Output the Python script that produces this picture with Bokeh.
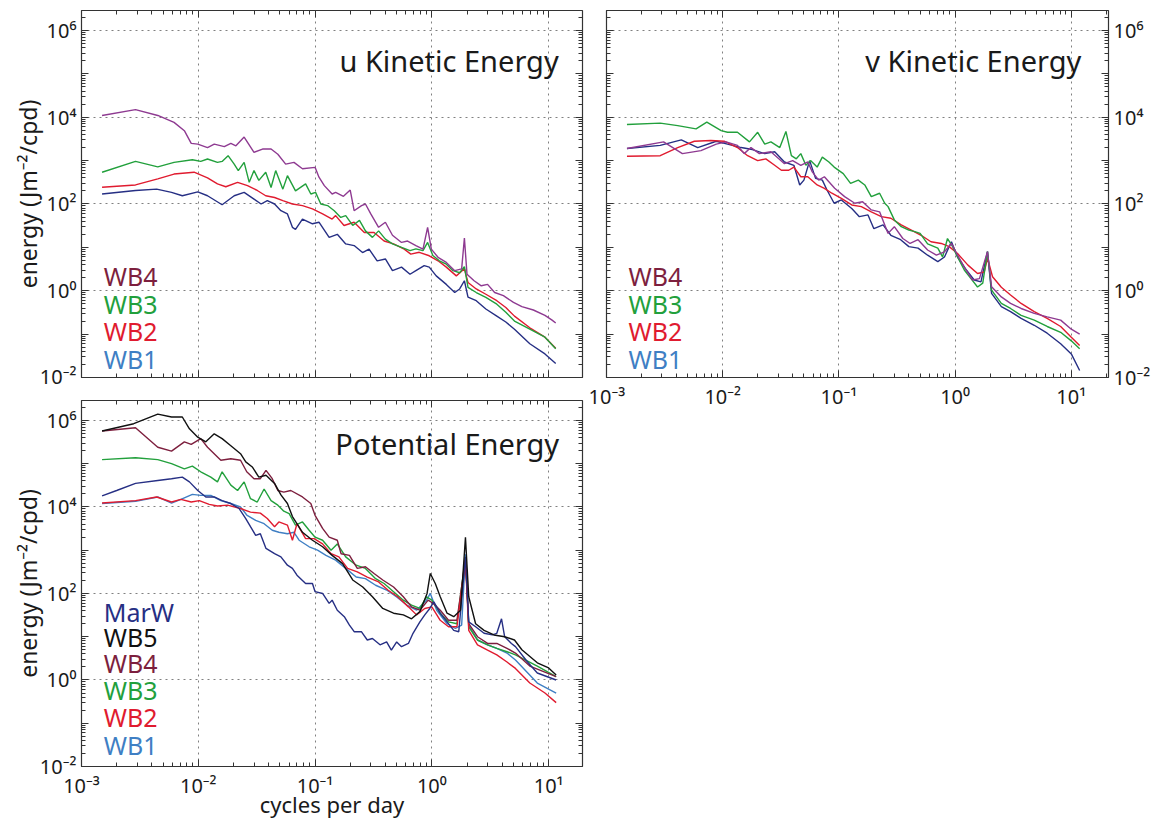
from bokeh.plotting import figure
from bokeh.models import LogAxis, FixedTicker, CustomJSTickFormatter, Label, Range1d
from bokeh.layouts import row, column
from bokeh.embed import file_html
from bokeh.resources import INLINE

FONT = "Noto Sans"
TXT = "#1a1a1a"
PURPLE = "#8e3a91"
MAROON = "#7d1f3e"
GREEN = "#22a03c"
RED = "#e01b2f"
NAVY = "#262f84"
LBLUE = "#3f7fc4"
BLACK = "#111111"

# ---------------- u Kinetic Energy ----------------
U_WB4_F = [0.0015, 0.0029, 0.0045, 0.0062, 0.0076, 0.0087, 0.0099, 0.012, 0.0137, 0.0167, 0.019, 0.021, 0.0247, 0.030, 0.0355, 0.042, 0.048, 0.056, 0.066, 0.078, 0.10, 0.108, 0.12, 0.14, 0.15, 0.175, 0.20, 0.216, 0.25, 0.27, 0.30, 0.35, 0.40, 0.46, 0.55, 0.62, 0.73, 0.84, 0.92, 0.99, 1.13, 1.33, 1.57, 1.80, 1.90, 2.0, 2.3, 2.65, 3.0, 3.45, 4.1, 5.0, 5.9, 7.4, 9.3, 10.7, 11.5]
U_WB4_E = [1.1e4, 1.5e4, 1.1e4, 7.6e3, 4.9e3, 2.5e3, 2.4e3, 2.0e3, 2.4e3, 2.1e3, 2.5e3, 2.2e3, 3.5e3, 1.55e3, 1.85e3, 1.85e3, 1.4e3, 830, 910, 650, 700, 415, 265, 170, 185, 150, 210, 70, 92, 100, 59, 29, 38, 19, 13, 14, 11, 9.1, 29, 9.1, 5.9, 4.5, 2.9, 3.2, 16.4, 2.4, 1.7, 1.3, 1.4, 0.91, 0.77, 0.54, 0.43, 0.36, 0.27, 0.21, 0.18]

U_WB3_F = [0.0015, 0.0029, 0.0045, 0.0062, 0.0089, 0.0105, 0.012, 0.0146, 0.016, 0.018, 0.0203, 0.022, 0.0247, 0.0273, 0.030, 0.033, 0.0378, 0.042, 0.046, 0.053, 0.058, 0.068, 0.083, 0.092, 0.101, 0.112, 0.128, 0.146, 0.166, 0.183, 0.21, 0.24, 0.27, 0.31, 0.35, 0.40, 0.46, 0.55, 0.65, 0.73, 0.84, 0.92, 1.02, 1.16, 1.33, 1.52, 1.73, 1.90, 2.04, 2.4, 2.9, 3.6, 4.3, 5.1, 6.9, 9.3, 11.5]
U_WB3_E = [540, 960, 720, 910, 1050, 960, 1090, 910, 960, 1300, 830, 590, 910, 316, 590, 350, 540, 240, 590, 220, 450, 200, 290, 170, 185, 100, 92, 70, 49, 54, 32, 42, 24, 17, 24, 15.5, 12, 10, 8.4, 9.2, 8.4, 13, 6.5, 4.9, 4.1, 2.9, 2.6, 3.6, 1.2, 0.91, 0.7, 0.49, 0.32, 0.2, 0.13, 0.085, 0.046]

U_WB2_F = [0.0015, 0.0029, 0.0045, 0.0062, 0.0092, 0.012, 0.0146, 0.0172, 0.0217, 0.0264, 0.032, 0.0378, 0.045, 0.053, 0.064, 0.078, 0.095, 0.116, 0.14, 0.15, 0.177, 0.216, 0.264, 0.32, 0.39, 0.47, 0.58, 0.66, 0.78, 0.95, 1.13, 1.33, 1.62, 1.90, 2.04, 2.4, 2.9, 3.6, 4.3, 5.1, 6.9, 9.3, 11.5]
U_WB2_E = [243, 275, 380, 490, 540, 400, 290, 250, 316, 265, 205, 155, 141, 120, 100, 92, 77, 59, 45, 54, 32, 38, 22, 22, 14, 12, 9.1, 7.0, 7.7, 6.4, 4.9, 3.5, 2.2, 3.2, 1.55, 1.1, 0.83, 0.59, 0.41, 0.26, 0.14, 0.085, 0.047]

U_WB1_F = [0.0015, 0.0029, 0.0044, 0.0059, 0.0073, 0.0099, 0.012, 0.016, 0.0203, 0.0247, 0.030, 0.0345, 0.039, 0.045, 0.051, 0.058, 0.064, 0.068, 0.078, 0.095, 0.108, 0.132, 0.155, 0.183, 0.216, 0.255, 0.29, 0.34, 0.40, 0.46, 0.55, 0.65, 0.73, 0.86, 0.95, 1.09, 1.33, 1.57, 1.73, 1.90, 2.04, 2.4, 2.9, 3.6, 4.3, 5.1, 6.9, 9.3, 11.5]
U_WB1_E = [170, 205, 220, 185, 155, 190, 155, 96, 155, 185, 130, 100, 120, 100, 70, 59, 29, 26, 45, 35, 38, 17, 20, 12, 11, 7.6, 9.1, 4.9, 5.4, 2.9, 3.5, 2.4, 2.9, 3.8, 3.5, 2.2, 1.4, 0.91, 1.1, 1.7, 0.71, 0.59, 0.38, 0.26, 0.19, 0.13, 0.06, 0.035, 0.021]

# ---------------- v Kinetic Energy ----------------
V_WB4_F = [0.0015, 0.0031, 0.0045, 0.0065, 0.0088, 0.0107, 0.0134, 0.0153, 0.0175, 0.0207, 0.026, 0.034, 0.040, 0.047, 0.054, 0.059, 0.067, 0.075, 0.092, 0.112, 0.137, 0.16, 0.19, 0.224, 0.265, 0.30, 0.355, 0.41, 0.48, 0.58, 0.69, 0.81, 0.93, 1.05, 1.2, 1.41, 1.62, 1.90, 2.06, 2.5, 3.0, 3.7, 4.8, 6.2, 8.1, 10.0, 11.8]
V_WB4_E = [1.9e3, 2.7e3, 1.45e3, 1.7e3, 2.4e3, 2.7e3, 2.25e3, 1.45e3, 2.0e3, 1.45e3, 1.6e3, 850, 1.0e3, 780, 930, 550, 355, 425, 230, 148, 104, 113, 73, 66, 21, 30, 16, 12.3, 15, 8.7, 6.6, 7.9, 12.3, 6.6, 3.5, 1.77, 1.9, 8.0, 1.23, 0.72, 0.51, 0.39, 0.3, 0.25, 0.21, 0.13, 0.1]

V_WB3_F = [0.0015, 0.0029, 0.0041, 0.0059, 0.0073, 0.0097, 0.011, 0.0134, 0.017, 0.020, 0.023, 0.026, 0.031, 0.035, 0.039, 0.043, 0.047, 0.052, 0.057, 0.065, 0.072, 0.082, 0.091, 0.109, 0.126, 0.147, 0.167, 0.19, 0.224, 0.248, 0.265, 0.30, 0.344, 0.40, 0.45, 0.50, 0.58, 0.71, 0.78, 0.86, 0.95, 1.05, 1.2, 1.37, 1.56, 1.73, 1.90, 2.06, 2.5, 3.0, 3.7, 4.8, 6.2, 8.1, 10.0, 11.8]
V_WB3_E = [6.8e3, 7.3e3, 6.4e3, 5.4e3, 7.7e3, 4.9e3, 4.5e3, 4.5e3, 2.7e3, 4.5e3, 2.4e3, 2.7e3, 2.0e3, 4.7e3, 1.3e3, 1.1e3, 1.45e3, 780, 1.0e3, 710, 1.2e3, 930, 710, 500, 300, 355, 275, 148, 177, 104, 87, 43, 30, 25, 23, 21, 12, 9.6, 6, 16, 10.5, 6, 3.0, 1.9, 1.22, 1.5, 8.0, 1.03, 0.51, 0.39, 0.27, 0.21, 0.15, 0.11, 0.07, 0.046]

V_WB2_F = [0.0015, 0.0029, 0.0041, 0.0057, 0.0079, 0.0103, 0.0134, 0.0164, 0.020, 0.0235, 0.028, 0.032, 0.037, 0.041, 0.047, 0.054, 0.065, 0.075, 0.087, 0.105, 0.129, 0.156, 0.19, 0.232, 0.28, 0.344, 0.42, 0.51, 0.62, 0.76, 0.89, 1.05, 1.29, 1.56, 1.78, 1.90, 2.1, 2.5, 3.0, 3.7, 4.8, 6.2, 8.1, 10.0, 11.8]
V_WB2_E = [1.26e3, 1.3e3, 2.0e3, 2.8e3, 2.9e3, 2.8e3, 2.0e3, 1.3e3, 1.0e3, 1.1e3, 780, 600, 600, 710, 425, 425, 275, 230, 177, 135, 95, 87, 66, 51, 47, 33, 25, 19, 13.5, 12.3, 10.4, 7.2, 3.9, 2.5, 2.7, 5.6, 2.1, 1.2, 0.8, 0.51, 0.33, 0.23, 0.15, 0.085, 0.055]

V_WB1_F = [0.0015, 0.0029, 0.0044, 0.0061, 0.0088, 0.011, 0.0144, 0.018, 0.023, 0.028, 0.034, 0.041, 0.046, 0.050, 0.056, 0.063, 0.072, 0.079, 0.091, 0.105, 0.129, 0.15, 0.178, 0.20, 0.24, 0.28, 0.34, 0.40, 0.48, 0.58, 0.71, 0.81, 0.93, 1.05, 1.25, 1.46, 1.67, 1.90, 2.06, 2.5, 3.0, 3.7, 4.8, 6.2, 8.1, 10.0, 11.8]
V_WB1_E = [1.9e3, 2.25e3, 3.0e3, 2.0e3, 2.8e3, 2.4e3, 2.0e3, 1.8e3, 1.45e3, 1.6e3, 930, 780, 275, 355, 1.0e3, 390, 355, 210, 104, 124, 79, 51, 56, 27, 33, 19, 15, 10.4, 9.6, 6.6, 4.7, 6, 13.5, 6, 3.0, 1.77, 1.6, 8.0, 0.87, 0.43, 0.33, 0.23, 0.16, 0.105, 0.06, 0.035, 0.0145]

# ---------------- Potential Energy ----------------
P_MARW_F = [0.0015, 0.002, 0.0029, 0.0045, 0.0059, 0.0073, 0.0084, 0.0099, 0.0116, 0.0137, 0.016, 0.019, 0.0224, 0.0255, 0.028, 0.031, 0.034, 0.038, 0.045, 0.051, 0.058, 0.064, 0.07, 0.083, 0.095, 0.10, 0.116, 0.132, 0.14, 0.155, 0.178, 0.197, 0.217, 0.25, 0.28, 0.31, 0.36, 0.41, 0.45, 0.50, 0.55, 0.63, 0.69, 0.79, 0.87, 0.96, 1.04, 1.18, 1.35, 1.54, 1.7, 1.94, 2.07, 2.37, 2.8, 3.3, 3.6, 3.95, 4.2, 4.8, 5.2, 6.6, 8.0, 11.6]
P_MARW_E = [1.8e4, 2.4e4, 3.5e4, 4.1e4, 4.5e4, 4.9e4, 3.8e4, 2.4e4, 1.7e4, 1.7e4, 1.4e4, 1.2e4, 9.2e3, 5.4e3, 3.5e3, 2.2e3, 2.4e3, 1.1e3, 830, 700, 450, 380, 265, 170, 170, 110, 100, 59, 70, 41, 29, 18.6, 13, 13, 8.4, 9.1, 6.5, 7.6, 4.9, 7.6, 5.9, 7.0, 12, 22, 32, 45, 64, 35, 22, 14, 13, 700, 22, 17, 12, 11, 12, 26, 10, 7, 5.9, 2.6, 1.45, 1.0]

P_WB5_F = [0.0015, 0.0028, 0.0045, 0.0059, 0.0073, 0.0084, 0.0099, 0.0116, 0.0137, 0.016, 0.019, 0.023, 0.0255, 0.029, 0.033, 0.038, 0.045, 0.051, 0.058, 0.064, 0.078, 0.095, 0.116, 0.14, 0.172, 0.21, 0.256, 0.31, 0.38, 0.47, 0.57, 0.67, 0.79, 0.91, 0.97, 1.07, 1.18, 1.35, 1.54, 1.76, 1.94, 2.07, 2.37, 2.8, 3.4, 4.2, 5.1, 5.9, 8.0, 10.0, 11.6]
P_WB5_E = [5.7e5, 8.4e5, 1.4e6, 1.2e6, 1.2e6, 6.4e5, 4.1e5, 3.2e5, 4.9e5, 3.8e5, 2.6e5, 1.7e5, 1.1e5, 8.4e4, 4.9e4, 5.4e4, 3.5e4, 1.9e4, 1.2e4, 6e3, 2.6e3, 1.7e3, 1.2e3, 760, 490, 205, 141, 84, 45, 35, 32, 26, 38, 100, 290, 170, 84, 35, 29, 41, 2.0e3, 84, 20, 14, 11, 10, 8.4, 5.0, 2.5, 1.9, 1.3]

P_WB4_F = [0.0015, 0.0029, 0.0045, 0.0059, 0.0076, 0.0087, 0.0105, 0.012, 0.0156, 0.019, 0.023, 0.026, 0.030, 0.034, 0.038, 0.043, 0.048, 0.054, 0.062, 0.078, 0.092, 0.10, 0.116, 0.132, 0.155, 0.167, 0.197, 0.23, 0.27, 0.32, 0.38, 0.47, 0.57, 0.67, 0.79, 0.93, 1.03, 1.18, 1.39, 1.64, 1.94, 2.07, 2.46, 3.0, 3.6, 4.4, 5.2, 6.9, 11.6]
P_WB4_E = [5.7e5, 6.8e5, 2.4e5, 1.95e5, 3.2e5, 2.8e5, 3.8e5, 2.4e5, 1.2e5, 1.3e5, 1.2e5, 6.5e4, 4.5e4, 4.5e4, 7.0e4, 4.5e4, 2.4e4, 2.2e4, 2.4e4, 1.7e4, 1.2e4, 6.4e3, 3.2e3, 2.0e3, 1.7e3, 830, 760, 380, 415, 290, 205, 141, 84, 49, 41, 70, 59, 41, 24, 24, 600, 20, 10, 7, 7, 5.4, 4.2, 2.1, 1.2]

P_WB3_F = [0.0015, 0.0029, 0.0045, 0.0059, 0.0076, 0.0089, 0.0105, 0.0128, 0.0146, 0.016, 0.019, 0.0217, 0.0247, 0.028, 0.032, 0.0366, 0.042, 0.048, 0.054, 0.06, 0.068, 0.078, 0.089, 0.10, 0.116, 0.137, 0.155, 0.183, 0.225, 0.27, 0.33, 0.39, 0.47, 0.57, 0.67, 0.79, 0.9, 1.0, 1.18, 1.39, 1.64, 1.94, 2.07, 2.46, 3.0, 3.6, 4.4, 5.2, 8.0, 11.6]
P_WB3_E = [1.24e5, 1.37e5, 1.24e5, 1.0e5, 7.6e4, 8.8e4, 6.5e4, 4.9e4, 3.8e4, 6.5e4, 3.2e4, 2.4e4, 3.8e4, 1.55e4, 1.3e4, 2.6e4, 1.4e4, 1.1e4, 8e3, 7.0e3, 3.8e3, 4.5e3, 2.9e3, 2.0e3, 1.7e3, 1.0e3, 1.4e3, 700, 450, 380, 220, 170, 110, 70, 54, 45, 83, 70, 35, 22, 20, 700, 17, 8.4, 6.5, 5.4, 4.5, 3.8, 2.1, 1.2]

P_WB2_F = [0.0015, 0.0029, 0.0044, 0.0059, 0.0071, 0.0087, 0.0102, 0.0124, 0.0146, 0.0178, 0.023, 0.028, 0.034, 0.039, 0.045, 0.049, 0.058, 0.064, 0.07, 0.083, 0.098, 0.116, 0.137, 0.16, 0.19, 0.23, 0.28, 0.35, 0.42, 0.51, 0.63, 0.74, 0.87, 1.0, 1.18, 1.39, 1.64, 1.94, 2.07, 2.46, 3.0, 3.6, 4.4, 5.2, 6.9, 9.3, 11.6]
P_WB2_E = [1.23e4, 1.4e4, 1.7e4, 1.3e4, 1.5e4, 1.3e4, 1.4e4, 1.15e4, 1.05e4, 1.1e4, 9.2e3, 7.6e3, 7.2e3, 5.4e3, 3.5e3, 4.5e3, 3.8e3, 1.7e3, 4.1e3, 1.85e3, 1.85e3, 1.4e3, 830, 700, 380, 316, 240, 185, 120, 84, 49, 32, 45, 49, 24, 17, 17, 590, 14, 6.5, 4.9, 3.8, 2.6, 1.85, 0.85, 0.5, 0.3]

P_WB1_F = [0.0015, 0.0029, 0.0045, 0.0059, 0.0071, 0.0089, 0.0105, 0.0128, 0.0156, 0.019, 0.023, 0.026, 0.031, 0.0366, 0.043, 0.049, 0.058, 0.066, 0.073, 0.089, 0.105, 0.124, 0.15, 0.183, 0.225, 0.27, 0.33, 0.41, 0.5, 0.61, 0.74, 0.9, 0.97, 1.1, 1.35, 1.59, 1.8, 1.94, 2.07, 2.46, 3.0, 3.6, 4.4, 5.2, 8.0, 11.6]
P_WB1_E = [1.2e4, 1.35e4, 1.7e4, 1.23e4, 1.5e4, 1.95e4, 1.85e4, 1.85e4, 1.4e4, 1.2e4, 1.0e4, 6.5e3, 4.9e3, 4.1e3, 2.9e3, 2.6e3, 2.4e3, 2.6e3, 1.7e3, 1.2e3, 1.0e3, 760, 590, 380, 240, 220, 155, 120, 83, 54, 41, 70, 100, 41, 20, 15.5, 18.6, 800, 18.6, 8.4, 6.5, 5.4, 4.2, 2.9, 0.85, 0.5]

# ---------------- texts ----------------
TITLES = ["u Kinetic Energy", "v Kinetic Energy", "Potential Energy"]
KE_NAMES = ["WB4", "WB3", "WB2", "WB1"]
KE_NAME_COLORS = [MAROON, GREEN, RED, LBLUE]
KE_NAME_Y = [2.2, 0.49, 0.115, 0.0265]
PE_NAMES = ["MarW", "WB5", "WB4", "WB3", "WB2", "WB1"]
PE_NAME_COLORS = [NAVY, BLACK, MAROON, GREEN, RED, LBLUE]
PE_NAME_Y = [37.8, 10.0, 2.43, 0.587, 0.142, 0.0316]
NAME_X = 1.55e-3
Y_LABEL = "energy (Jm\u207b\u00b2/cpd)"
X_LABEL = "cycles per day"

X_MAJOR = [1e-3, 1e-2, 1e-1, 1.0, 10.0]
X_MINOR = [m * d for d in X_MAJOR for m in range(2, 10)]
Y_MAJOR = [1e-2, 1e-1, 1e0, 1e1, 1e2, 1e3, 1e4, 1e5, 1e6]
Y_MINOR = [m * d for d in Y_MAJOR for m in range(2, 10)]
Y_GRID = [1e-2, 1e0, 1e2, 1e4, 1e6]

SUP_JS = """
const sup = {"-": "\u207b", "0": "\u2070", "1": "\u00b9", "2": "\u00b2", "3": "\u00b3",
             "4": "\u2074", "5": "\u2075", "6": "\u2076", "7": "\u2077", "8": "\u2078", "9": "\u2079"};
const e = Math.round(Math.log10(tick));
if (SKIP_ODD && (e % 2 !== 0)) { return ""; }
let s = "";
for (const c of String(e)) { s += sup[c]; }
return "10" + s;
"""


def formatter(skip_odd):
    return CustomJSTickFormatter(code=SUP_JS.replace("SKIP_ODD", "true" if skip_odd else "false"))


def style_axis(ax, ticks, minor, labels, skip_odd=False):
    ax.ticker = FixedTicker(ticks=ticks, minor_ticks=minor)
    ax.axis_line_color = None
    ax.major_tick_in = 7
    ax.major_tick_out = 0
    ax.minor_tick_in = 4
    ax.minor_tick_out = 0
    ax.major_tick_line_color = "#333333"
    ax.minor_tick_line_color = "#333333"
    ax.axis_label_text_font = FONT
    ax.axis_label_text_font_size = "23px"
    ax.axis_label_text_font_style = "normal"
    ax.axis_label_text_color = TXT
    ax.axis_label_standoff = -7
    if labels:
        ax.formatter = formatter(skip_odd)
        ax.major_label_text_font = FONT
        ax.major_label_text_font_size = "20px"
        ax.major_label_text_color = TXT
        ax.major_label_standoff = 5
    else:
        ax.formatter = CustomJSTickFormatter(code="return '';")
        ax.major_label_text_font_size = "0px"
        ax.major_label_standoff = 0


def make_panel(x_end, fw, fh, bl, br, bt, bb, y_side, x_labels):
    p = figure(x_axis_type="log", y_axis_type="log",
               x_range=Range1d(1e-3, x_end), y_range=Range1d(1e-2, 2.89e6),
               frame_width=fw, frame_height=fh,
               min_border_left=bl, min_border_right=br,
               min_border_top=bt, min_border_bottom=bb,
               x_axis_location="below", y_axis_location=y_side,
               output_backend="svg", toolbar_location=None)
    p.background_fill_color = "white"
    p.border_fill_color = "white"
    p.outline_line_color = "#333333"
    p.outline_line_width = 1.2
    xa = p.xaxis[0]
    ya = p.yaxis[0]
    style_axis(xa, X_MAJOR, X_MINOR, x_labels)
    style_axis(ya, Y_MAJOR, Y_MINOR, True, skip_odd=True)
    top = LogAxis()
    style_axis(top, X_MAJOR, X_MINOR, False)
    p.add_layout(top, "above")
    other = LogAxis()
    style_axis(other, Y_MAJOR, Y_MINOR, False)
    p.add_layout(other, "left" if y_side == "right" else "right")
    p.xgrid.ticker = FixedTicker(ticks=X_MAJOR)
    p.ygrid.ticker = FixedTicker(ticks=Y_GRID)
    p.grid.grid_line_color = "#808080"
    p.grid.grid_line_dash = "2 4"
    p.grid.grid_line_width = 1
    return p, xa, ya


def add_text(p, x, y, text, color, size, align="left"):
    p.add_layout(Label(x=x, y=y, text=text, text_color=color, text_font=FONT,
                       text_font_size=size, text_align=align, text_baseline="alphabetic"))


LW = 1.4
TITLE_SIZE = "29px"
NAME_SIZE = "25px"

# u KE
p1, p1x, p1y = make_panel(19.5, 501, 367, 81, 6, 10, 12, "left", False)
p1y.axis_label = Y_LABEL
p1.line(U_WB1_F, U_WB1_E, line_color=NAVY, line_width=LW)
p1.line(U_WB2_F, U_WB2_E, line_color=RED, line_width=LW)
p1.line(U_WB3_F, U_WB3_E, line_color=GREEN, line_width=LW)
p1.line(U_WB4_F, U_WB4_E, line_color=PURPLE, line_width=LW)
add_text(p1, 12.2, 2.0e5, TITLES[0], TXT, TITLE_SIZE, "right")
for n, c, y in zip(KE_NAMES, KE_NAME_COLORS, KE_NAME_Y):
    add_text(p1, NAME_X, y, n, c, NAME_SIZE)

# v KE
p2, p2x, p2y = make_panel(20.9, 502, 367, 18, 40, 10, 35, "right", True)
p2.line(V_WB1_F, V_WB1_E, line_color=NAVY, line_width=LW)
p2.line(V_WB2_F, V_WB2_E, line_color=RED, line_width=LW)
p2.line(V_WB3_F, V_WB3_E, line_color=GREEN, line_width=LW)
p2.line(V_WB4_F, V_WB4_E, line_color=PURPLE, line_width=LW)
add_text(p2, 12.2, 2.0e5, TITLES[1], TXT, TITLE_SIZE, "right")
for n, c, y in zip(KE_NAMES, KE_NAME_COLORS, KE_NAME_Y):
    add_text(p2, NAME_X, y, n, c, NAME_SIZE)

# PE
p3, p3x, p3y = make_panel(19.5, 501, 366, 81, 6, 11, 56, "left", True)
p3y.axis_label = Y_LABEL
p3x.axis_label = X_LABEL
p3x.axis_label_text_font_size = "22px"
p3x.axis_label_standoff = -13
p3.line(P_WB1_F, P_WB1_E, line_color=LBLUE, line_width=LW)
p3.line(P_WB3_F, P_WB3_E, line_color=GREEN, line_width=LW)
p3.line(P_WB4_F, P_WB4_E, line_color=MAROON, line_width=LW)
p3.line(P_WB2_F, P_WB2_E, line_color=RED, line_width=LW)
p3.line(P_MARW_F, P_MARW_E, line_color=NAVY, line_width=LW)
p3.line(P_WB5_F, P_WB5_E, line_color=BLACK, line_width=LW)
add_text(p3, 12.3, 2.9e5, TITLES[2], TXT, TITLE_SIZE, "right")
for n, c, y in zip(PE_NAMES, PE_NAME_COLORS, PE_NAME_Y):
    add_text(p3, NAME_X, y, n, c, NAME_SIZE)

layout = row(column(p1, p3), p2)

with open("out.html", "w", encoding="utf-8") as fh:
    fh.write(file_html(layout, INLINE))
